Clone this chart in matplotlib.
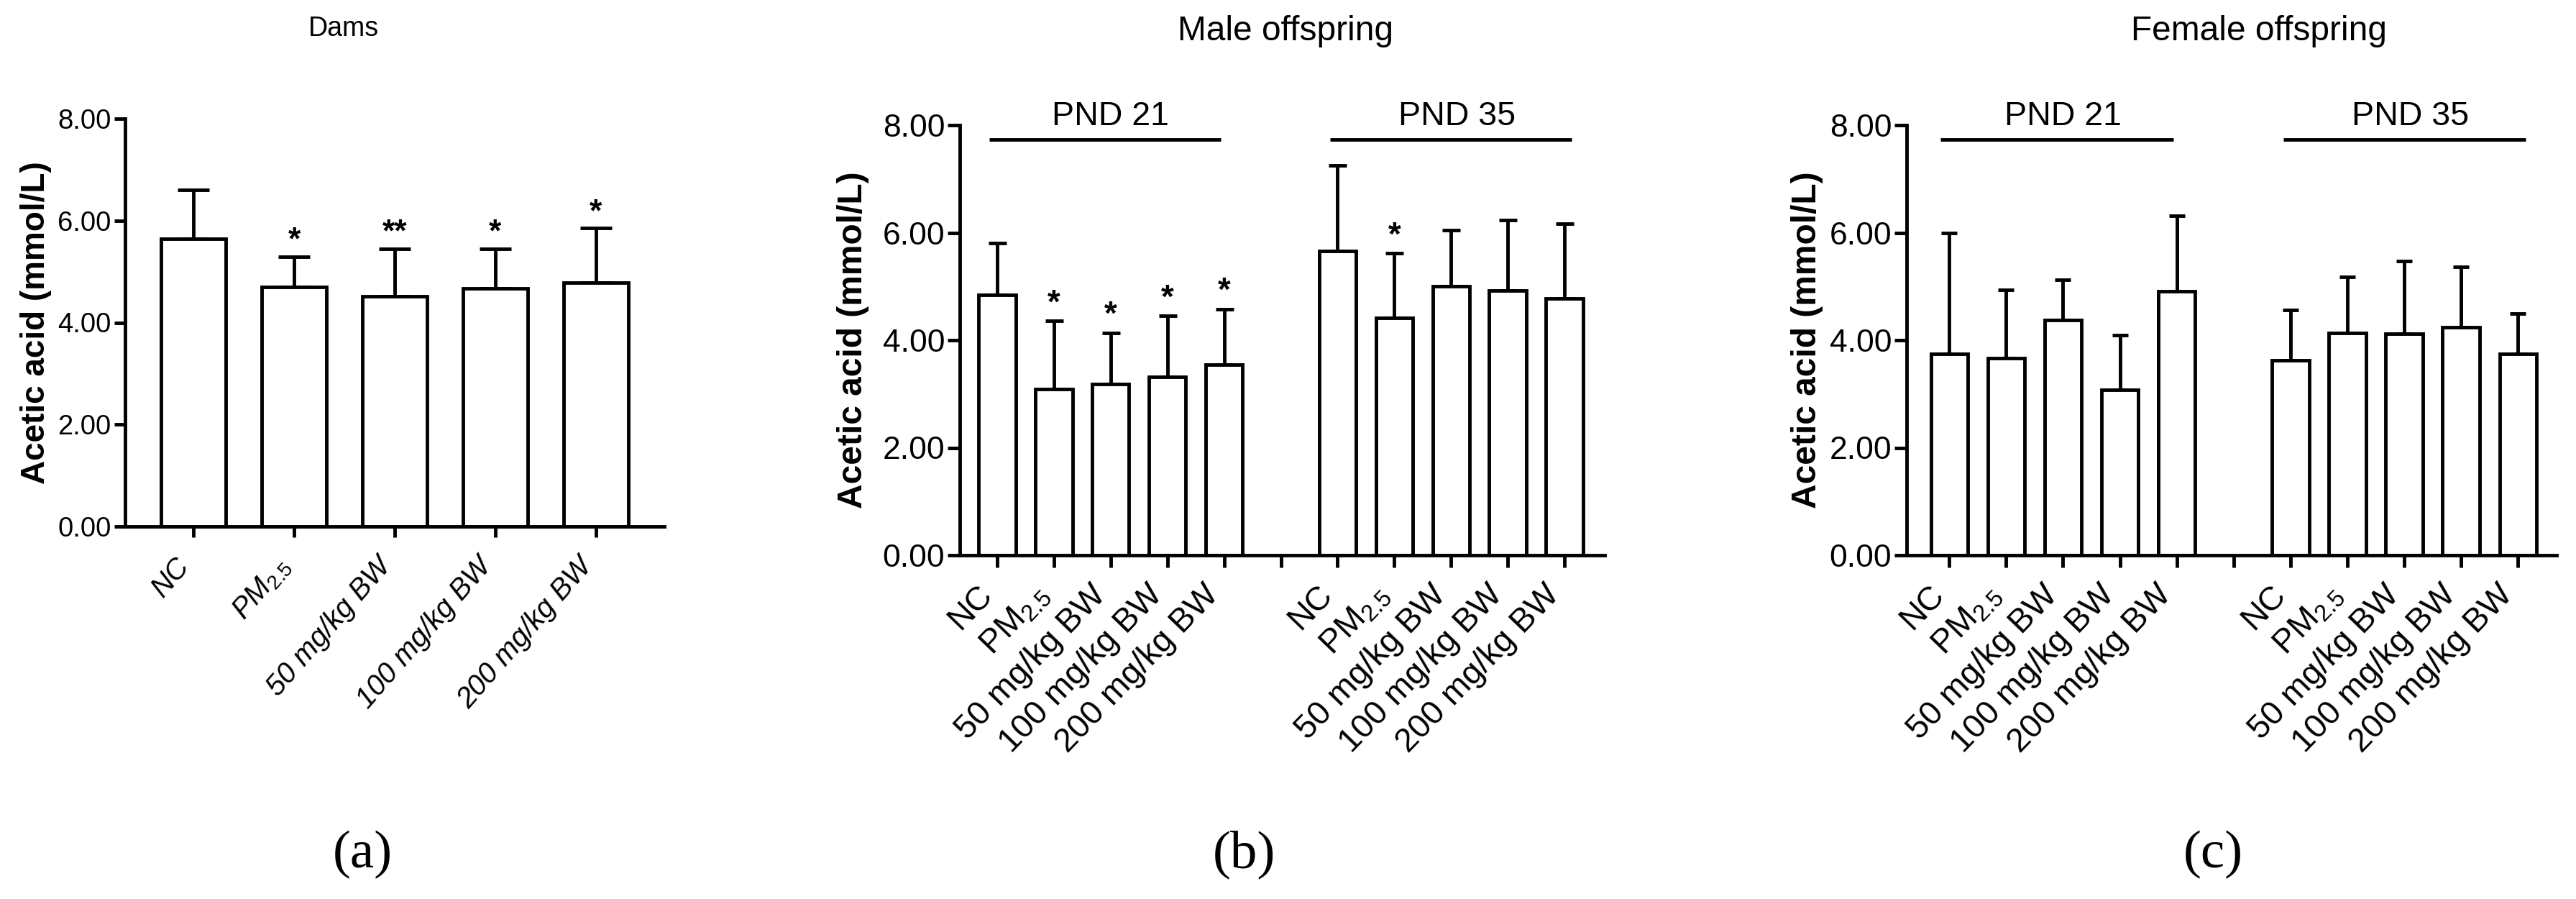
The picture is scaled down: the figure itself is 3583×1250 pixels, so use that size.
import numpy as np
import matplotlib
matplotlib.use("Agg")
import matplotlib.pyplot as plt
from matplotlib.transforms import ScaledTranslation

plt.rcParams['font.family'] = ['Liberation Sans', 'DejaVu Sans']
plt.rcParams['mathtext.fontset'] = 'custom'
plt.rcParams['mathtext.rm'] = 'Liberation Sans'
plt.rcParams['mathtext.it'] = 'Liberation Sans:italic'
plt.rcParams['mathtext.bf'] = 'Liberation Sans:bold'

# data
groups = ["NC", "PM$_{2.5}$", "50 mg/kg BW", "100 mg/kg BW", "200 mg/kg BW"]
groups_it = ["NC", r"$\mathit{PM_{2.5}}$", "50 mg/kg BW", "100 mg/kg BW", "200 mg/kg BW"]

dams_mean = [5.64, 4.70, 4.51, 4.67, 4.78]
dams_top = [6.61, 5.29, 5.45, 5.45, 5.85]
dams_sig = ["", "*", "**", "*", "*"]

male21_mean = [4.84, 3.09, 3.19, 3.32, 3.55]
male21_top = [5.80, 4.36, 4.14, 4.45, 4.58]
male21_sig = ["", "*", "*", "*", "*"]
male35_mean = [5.66, 4.42, 5.01, 4.92, 4.77]
male35_top = [7.25, 5.62, 6.05, 6.23, 6.17]
male35_sig = ["", "*", "", "", ""]

female21_mean = [3.75, 3.66, 4.38, 3.08, 4.91]
female21_top = [5.99, 4.94, 5.12, 4.10, 6.32]
female35_mean = [3.63, 4.14, 4.12, 4.24, 3.75]
female35_top = [4.56, 5.18, 5.47, 5.36, 4.50]

yticks = [0, 2, 4, 6, 8]
ylabel = "Acetic acid (mmol/L)"

W, H = 3583, 1250
fig = plt.figure(figsize=(W / 100, H / 100), dpi=100)


def setup(ax, xlim, tsize, lw, ticklen):
    ax.set_ylim(0, 8)
    ax.set_xlim(*xlim)
    ax.set_yticks(yticks)
    ax.set_yticklabels(["%.2f" % v for v in yticks])
    for s in ["top", "right"]:
        ax.spines[s].set_visible(False)
    for s in ["left", "bottom"]:
        ax.spines[s].set_linewidth(lw)
    ax.tick_params(axis="y", labelsize=tsize, width=lw, length=ticklen, pad=3)
    ax.tick_params(axis="x", width=lw, length=ticklen)


def xlabels(ax, ticks, labels, size, rot, pad, shift, **kw):
    ax.set_xticks(ticks)
    ax.set_xticklabels(labels, rotation=rot, ha="right", va="center",
                       rotation_mode="anchor", fontsize=size, **kw)
    ax.tick_params(axis="x", pad=pad)
    # GraphPad puts the rotated labels a bit left of their ticks
    off = ScaledTranslation(shift / 100, 0, fig.dpi_scale_trans)
    for t in ax.get_xticklabels():
        t.set_transform(t.get_transform() + off)


def bars(ax, x, mean, top, width, lw, cap):
    mean = np.array(mean)
    err = np.array(top) - mean
    ax.bar(x, mean, width=width, color="white", edgecolor="black", linewidth=lw, zorder=2)
    ax.errorbar(x, mean, yerr=[np.zeros_like(err), err], fmt="none", ecolor="black",
                elinewidth=lw, capsize=cap, capthick=lw, zorder=1)


def stars(ax, x, top, sig, size):
    for xi, t, s in zip(x, top, sig):
        if s:
            ax.text(xi, t + 0.02, s, ha="center", va="bottom", fontsize=size, fontweight="bold")


def bracket(ax, x0, x1, label, size, lw):
    ax.plot([x0, x1], [7.73, 7.73], color="black", lw=lw, clip_on=False, solid_capstyle="butt")
    ax.text((x0 + x1) / 2 + 0.1, 8.0, label, ha="center", va="baseline", fontsize=size)


# (a) Dams
ax1 = fig.add_axes([174 / W, 1 - 732 / H, 750 / W, 567 / H])
xa = np.arange(5)
setup(ax1, (-0.68, 4.68), 27.5, 3.5, 11)
bars(ax1, xa, dams_mean, dams_top, 0.64, 3.5, 16)
stars(ax1, xa, dams_top, dams_sig, 32)
xlabels(ax1, xa, groups_it, 29, 49, 24, -12, style="italic")
ax1.set_ylabel(ylabel, fontsize=33, fontweight="bold", va="center")
ax1.yaxis.set_label_coords(-0.165, 0.5)

# (b) Male offspring, (c) Female offspring
xb = np.array([0, 1, 2, 3, 4, 6, 7, 8, 9, 10])
ticks_b = np.arange(11)
labels_b = groups[:] + [""] + groups[:]

ax2 = fig.add_axes([1335 / W, 1 - 772 / H, 897 / W, 598 / H])
setup(ax2, (-0.66, 10.71), 32, 3.5, 12)
bars(ax2, xb, male21_mean + male35_mean, male21_top + male35_top, 0.65, 3.5, 9)
stars(ax2, xb, male21_top + male35_top, male21_sig + male35_sig, 33)
bracket(ax2, -0.14, 3.94, "PND 21", 33.5, 3.5)
bracket(ax2, 5.87, 10.13, "PND 35", 33.5, 3.5)
xlabels(ax2, ticks_b, labels_b, 33.5, 46, 23, -14)
ax2.set_ylabel(ylabel, fontsize=34.5, fontweight="bold", va="center")
ax2.yaxis.set_label_coords(-0.166, 0.5)

ax3 = fig.add_axes([2652 / W, 1 - 772 / H, 904 / W, 598 / H])
setup(ax3, (-0.75, 10.68), 32, 3.5, 12)
bars(ax3, xb, female21_mean + female35_mean, female21_top + female35_top, 0.65, 3.5, 8)
bracket(ax3, -0.15, 3.94, "PND 21", 33.5, 3.5)
bracket(ax3, 5.87, 10.14, "PND 35", 33.5, 3.5)
xlabels(ax3, ticks_b, labels_b, 33.5, 46, 23, -14)
ax3.set_ylabel(ylabel, fontsize=34.5, fontweight="bold", va="center")
ax3.yaxis.set_label_coords(-0.153, 0.5)

# titles and panel letters
fig.text(478 / W, 1 - 40 / H, "Dams", ha="center", va="center", fontsize=27)
fig.text(1788 / W, 1 - 44 / H, "Male offspring", ha="center", va="center", fontsize=34.5)
fig.text(3142 / W, 1 - 44 / H, "Female offspring", ha="center", va="center", fontsize=34.5)
for x, lab in [(504, "(a)"), (1730, "(b)"), (3078, "(c)")]:
    fig.text(x / W, 1 - 1188 / H, lab, ha="center", va="center", fontsize=54,
             family="Liberation Serif")

fig.savefig("out.png", dpi=100, facecolor="white")
